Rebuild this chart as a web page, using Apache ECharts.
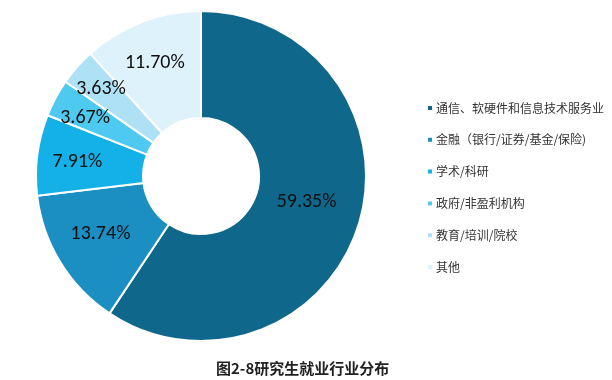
<!DOCTYPE html>
<html><head><meta charset="utf-8">
<script src="https://cdn.jsdelivr.net/npm/echarts@6/dist/echarts.min.js"></script>
<style>html,body{margin:0;padding:0;background:#fff}#c{width:612px;height:380px}</style>
</head><body><div id="c"></div>
<script>
const categories = ['通信、软硬件和信息技术服务业','金融（银行/证券/基金/保险)','学术/科研','政府/非盈利机构','教育/培训/院校','其他'];
const values = [59.35, 13.74, 7.91, 3.67, 3.63, 11.70];
const colors = ['#0f678b','#1b8ec2','#14b1e8','#4ecaf0','#aee1f6','#def2fb'];
const title = '图2-8研究生就业行业分布';

const labelShift = [[-4,-7],[-3,-2],[-10,1],[-15,-4],[-14,-11],[-5,-6]];

const chart = echarts.init(document.getElementById('c'), null, {renderer:'canvas'});
chart.setOption({
  animation:false,
  title:{text:title,left:211,top:356,textStyle:{fontFamily:'Noto Sans CJK SC',fontSize:15,fontWeight:'bold',color:'#222'}},
  legend:{
    orient:'vertical',left:421,top:97,itemWidth:6,itemHeight:6,itemGap:19.8,icon:'rect',
    textStyle:{fontFamily:'Noto Sans CJK SC',fontSize:12,lineHeight:12,color:'#333',padding:[0,0,0,-2]},
    data:categories
  },
  color:colors,
  series:[{
    type:'pie',center:[201,176],radius:[58,165],startAngle:90,clockwise:true,
    itemStyle:{borderColor:'#fff',borderWidth:2},
    label:{position:'inside',formatter:p=>p.value.toFixed(2)+'%',fontFamily:'Carlito, Calibri, Lato, sans-serif',fontSize:20,color:'#111'},
    labelLine:{show:false},
    labelLayout:p=>({dx:labelShift[p.dataIndex][0],dy:labelShift[p.dataIndex][1]}),
    data:categories.map((n,i)=>({name:n,value:values[i]}))
  }]
});
</script></body></html>
